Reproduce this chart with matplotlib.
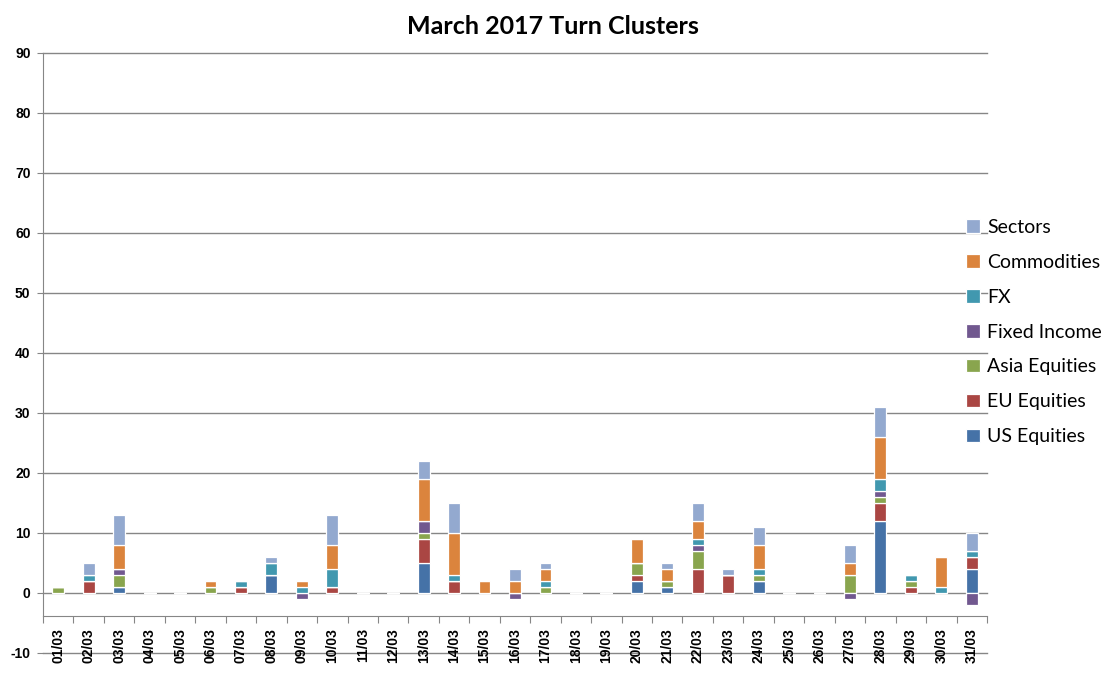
import matplotlib
matplotlib.use("Agg")
import matplotlib.pyplot as plt
import numpy as np

days = [f"{d:02d}/03" for d in range(1, 32)]
series_names = ["US Equities", "EU Equities", "Asia Equities", "Fixed Income",
                "FX", "Commodities", "Sectors"]
us_eq =       [0,0,1,0,0,0,0,3,0,0,0,0,5,0,0,0,0,0,0,2,1,0,0,2,0,0,0,12,0,0,4]
eu_eq =       [0,2,0,0,0,0,1,0,0,1,0,0,4,2,0,0,0,0,0,1,0,4,3,0,0,0,0,3,1,0,2]
asia_eq =     [1,0,2,0,0,1,0,0,0,0,0,0,1,0,0,0,1,0,0,2,1,3,0,1,0,0,3,1,1,0,0]
fixed_inc =   [0,0,1,0,0,0,0,0,-1,0,0,0,2,0,0,-1,0,0,0,0,0,1,0,0,0,0,-1,1,0,0,-2]
fx =          [0,1,0,0,0,0,1,2,1,3,0,0,0,1,0,0,1,0,0,0,0,1,0,1,0,0,0,2,1,1,1]
commodities = [0,0,4,0,0,1,0,0,1,4,0,0,7,7,2,2,2,0,0,4,2,3,0,4,0,0,2,7,0,5,0]
sectors =     [0,2,5,0,0,0,0,1,0,5,0,0,3,5,0,2,1,0,0,0,1,3,1,3,0,0,3,5,0,0,3]
yticks = list(range(-10, 91, 10))

colors = ["#4572A7", "#AA4643", "#89A54E", "#71588F", "#4198AF", "#DB843D", "#93A9CF"]
all_series = [us_eq, eu_eq, asia_eq, fixed_inc, fx, commodities, sectors]

fig = plt.figure(figsize=(11.06, 6.81), dpi=100)
ax = fig.add_axes([43/1106, 1 - 653/681, (987-43)/1106, 600/681])

x = np.arange(len(days))
pos_bottom = np.zeros(len(days))
neg_bottom = np.zeros(len(days))
handles = []
for name, vals, c in zip(series_names, all_series, colors):
    v = np.array(vals, dtype=float)
    bottom = np.where(v >= 0, pos_bottom, neg_bottom)
    b = ax.bar(x, v, width=0.39, bottom=bottom, color=c, edgecolor="white",
               linewidth=0.9, label=name, zorder=3)
    handles.append(b)
    pos_bottom += np.where(v > 0, v, 0)
    neg_bottom += np.where(v < 0, v, 0)

tick_font = {"family": "Liberation Sans", "weight": "bold", "size": 10}

ax.set_xlim(-0.5, len(days) - 0.5)
ax.set_ylim(-10, 90)
ax.set_yticks(yticks)
ax.set_yticklabels([str(t) for t in yticks], fontdict=tick_font)
for t in yticks:
    ax.axhline(t, color="#868686", linewidth=1.0, zorder=1, clip_on=False)

for s in ["top", "right"]:
    ax.spines[s].set_visible(False)
ax.spines["left"].set_color("#868686")
ax.spines["left"].set_bounds(-3.8, 90)
ax.spines["bottom"].set_position(("data", -3.8))
ax.spines["bottom"].set_color("#868686")
ax.tick_params(axis="y", length=4, color="#868686", pad=5)

ax.set_xticks(np.arange(-0.5, len(days), 1.0))
ax.set_xticklabels([])
ax.set_xticks(x, minor=True)
ax.set_xticklabels(days, minor=True, rotation=90, fontdict=tick_font)
ax.tick_params(axis="x", which="major", length=5, color="#868686", direction="out")
ax.tick_params(axis="x", which="minor", length=0, pad=9)

leg = ax.legend(handles[::-1], series_names[::-1], loc="center left",
                bbox_to_anchor=((966 - 43)/944, 0.535), frameon=False,
                prop={"family": "Lato", "size": 14}, handlelength=0.7,
                handleheight=0.7, handletextpad=0.4, labelspacing=0.92,
                borderpad=0, borderaxespad=0)

fig.text(553/1106, 1 - 27/681, "March 2017 Turn Clusters", ha="center", va="center",
         fontsize=18, fontweight="bold", family="Lato")

fig.savefig("out.png", dpi=100)
